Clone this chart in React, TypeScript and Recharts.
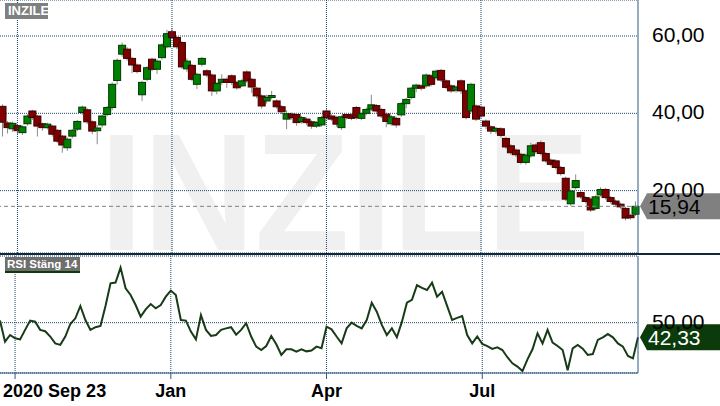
import React from "react";
import {
  ComposedChart,
  Bar,
  Line,
  XAxis,
  YAxis,
  CartesianGrid,
  ReferenceLine,
} from "recharts";

// daily candles (left to right)
const OPEN = [
  41.8, 37.5, 36.0, 36.8, 35.0, 37.3, 40.6, 39.3, 37.3, 36.3,
  36.7, 35.6, 34.1, 31.1, 34.1, 35.9, 40.2, 40.9, 37.8, 35.5,
  37.0, 39.7, 41.5, 48.5, 55.3, 56.6, 54.2, 52.5, 44.8, 48.8,
  54.0, 51.4, 54.4, 57.2, 61.1, 59.6, 58.3, 51.5, 52.4, 47.5,
  52.7, 51.0, 49.9, 45.8, 48.0, 48.8, 49.7, 48.0, 47.1, 50.7,
  48.8, 46.5, 44.5, 43.2, 44.1, 43.2, 41.7, 38.5, 39.8, 39.7,
  37.9, 38.5, 37.8, 36.7, 37.0, 40.6, 39.3, 38.9, 36.3, 39.7,
  39.6, 41.5, 38.7, 40.0, 41.1, 42.0, 41.0, 39.8, 37.3, 38.7,
  39.6, 42.5, 44.1, 46.5, 47.1, 47.1, 49.7, 49.2, 51.1, 48.4,
  47.1, 46.0, 48.4, 45.8, 40.6, 41.9, 41.6, 38.0, 36.5, 35.4,
  36.0, 33.5, 31.6, 30.5, 29.4, 27.3, 29.0, 31.8, 32.4, 29.6,
  27.9, 27.7, 26.0, 23.2, 16.6, 20.8, 19.5, 18.2, 17.8, 15.4,
  18.9, 20.3, 18.2, 17.3, 16.5, 15.4, 13.6, 13.9,
];
const CLOSE = [
  37.7, 36.3, 37.4, 35.5, 36.5, 39.3, 38.9, 36.7, 36.3, 37.2,
  34.6, 32.8, 31.8, 33.3, 35.6, 37.9, 41.6, 37.8, 35.4, 36.2,
  39.3, 41.5, 47.5, 53.7, 57.6, 54.2, 52.5, 50.8, 48.0, 51.8,
  51.4, 53.5, 57.7, 60.6, 59.6, 57.2, 52.0, 53.5, 48.8, 50.1,
  54.2, 49.9, 45.8, 47.7, 48.8, 48.0, 48.0, 46.6, 48.4, 48.4,
  46.8, 44.5, 41.9, 44.1, 44.6, 41.7, 40.4, 39.9, 38.9, 37.6,
  38.9, 37.6, 36.7, 37.6, 38.9, 38.9, 38.5, 37.2, 39.1, 38.9,
  38.7, 38.9, 39.9, 41.0, 42.2, 40.6, 39.3, 37.9, 39.1, 37.0,
  42.5, 43.6, 46.5, 47.3, 46.5, 49.9, 47.5, 50.9, 48.6, 46.7,
  45.8, 46.8, 45.8, 38.9, 47.5, 38.5, 39.3, 36.7, 35.4, 36.1,
  34.3, 31.3, 29.8, 29.3, 27.3, 29.2, 31.6, 30.1, 29.6, 27.7,
  26.8, 26.0, 24.4, 17.8, 19.9, 22.6, 18.4, 17.2, 15.0, 18.4,
  20.3, 18.2, 17.2, 16.5, 15.8, 12.9, 13.0, 15.94,
];
const HIGH = [
  42.3, 38.0, 37.9, 37.2, 36.9, 39.8, 40.9, 39.6, 37.6, 37.6,
  37.0, 35.9, 34.4, 33.8, 36.0, 38.3, 42.0, 41.3, 38.2, 37.0,
  39.7, 41.9, 48.0, 54.2, 58.3, 57.1, 54.6, 52.9, 48.4, 52.2,
  54.4, 54.0, 58.1, 61.6, 62.0, 60.0, 58.7, 54.2, 52.8, 50.5,
  54.6, 51.4, 50.3, 48.1, 50.1, 49.3, 50.1, 48.4, 48.8, 51.1,
  49.2, 46.9, 44.9, 44.8, 45.8, 43.6, 42.1, 40.8, 40.2, 40.1,
  39.3, 38.9, 38.2, 38.0, 39.3, 41.1, 39.7, 39.3, 39.5, 40.1,
  40.0, 41.9, 40.3, 41.5, 44.8, 42.4, 41.4, 40.2, 39.5, 39.1,
  42.9, 44.0, 46.9, 47.7, 47.5, 50.3, 50.1, 51.3, 51.5, 48.8,
  47.5, 47.2, 48.8, 46.2, 47.9, 42.3, 42.0, 38.4, 36.9, 36.5,
  36.4, 33.9, 32.0, 30.9, 29.8, 29.6, 32.4, 32.2, 33.0, 30.0,
  28.3, 28.1, 26.4, 23.6, 20.3, 24.2, 19.9, 18.6, 18.2, 18.8,
  20.9, 20.7, 18.6, 17.7, 16.9, 15.8, 14.0, 17.2,
];
const LOW = [
  34.0, 34.8, 35.2, 34.6, 34.4, 36.8, 38.3, 34.0, 35.5, 35.8,
  34.0, 32.3, 29.8, 30.3, 33.5, 35.4, 39.6, 37.2, 34.6, 32.0,
  36.3, 39.2, 40.8, 47.4, 54.6, 53.6, 50.4, 50.3, 43.2, 48.3,
  50.9, 50.2, 53.9, 56.8, 59.2, 56.6, 51.5, 50.7, 48.3, 46.3,
  52.1, 49.3, 44.5, 44.9, 47.3, 46.6, 47.3, 46.1, 46.8, 47.9,
  45.3, 43.9, 41.2, 42.5, 43.6, 41.2, 39.8, 35.9, 38.4, 36.8,
  37.3, 36.9, 36.0, 36.2, 36.5, 38.4, 38.0, 36.5, 35.7, 38.4,
  38.2, 38.4, 38.2, 39.5, 40.6, 40.1, 38.8, 36.4, 36.8, 36.3,
  39.1, 41.3, 43.6, 45.5, 45.9, 46.6, 47.0, 48.7, 48.1, 46.2,
  45.3, 45.3, 45.0, 38.4, 40.1, 38.0, 38.8, 35.9, 34.6, 34.7,
  33.7, 30.8, 29.2, 28.7, 26.8, 26.7, 28.5, 29.6, 29.1, 27.2,
  26.3, 25.5, 23.9, 17.3, 16.1, 20.3, 17.9, 16.7, 14.5, 14.9,
  18.4, 17.7, 16.7, 16.0, 15.3, 12.3, 12.5, 13.4,
];
// RSI (close, 14)
const RSI = [
  51.1, 40.0, 43.5, 41.8, 41.2, 46.2, 51.1, 50.5, 46.2, 45.5,
  42.7, 39.1, 38.3, 42.7, 49.3, 52.3, 58.8, 51.4, 46.2, 47.6,
  48.3, 58.8, 70.7, 71.1, 79.0, 68.1, 64.6, 59.3, 53.2, 57.0,
  59.8, 57.6, 59.3, 63.7, 66.9, 64.6, 51.4, 51.1, 45.3, 41.2,
  54.0, 46.2, 43.0, 43.5, 46.2, 47.0, 47.6, 43.7, 46.2, 49.7,
  42.7, 37.4, 35.6, 37.7, 43.0, 38.6, 33.0, 36.0, 36.0, 34.8,
  36.0, 34.9, 35.3, 37.4, 36.5, 47.9, 46.5, 42.7, 39.1, 47.0,
  50.0, 48.3, 47.0, 51.4, 60.5, 55.8, 48.8, 43.5, 47.0, 42.3,
  50.4, 60.5, 62.0, 69.7, 68.3, 67.2, 71.1, 63.7, 66.3, 58.8,
  51.4, 52.5, 53.5, 43.5, 39.1, 42.7, 38.8, 37.7, 36.2, 37.0,
  35.6, 31.8, 28.6, 26.9, 24.5, 30.7, 36.0, 44.4, 39.1, 46.2,
  39.5, 37.7, 35.6, 25.0, 36.5, 38.3, 36.3, 33.0, 33.5, 40.9,
  42.3, 44.0, 42.3, 39.1, 37.4, 32.5, 31.2, 42.33,
];

const PRICE_TICKS = [20, 40, 60];
const RSI_TICKS = [50];
const DATE_TICKS = [
  { i: 3, label: "2020 Sep 23" },
  { i: 34, label: "Jan" },
  { i: 65, label: "Apr" },
  { i: 96, label: "Jul" },
];
const LAST_PRICE = 15.94;
const LAST_RSI = 42.33;

const data = OPEN.map((open, i) => ({
  i,
  open,
  close: CLOSE[i],
  high: HIGH[i],
  low: LOW[i],
  rsi: RSI[i],
}));

const FONT = '"Liberation Sans", Arial, sans-serif';
const GRID = "#1f4766";
const BORDER = "#2c5985";

const fmt = (v: number) => v.toFixed(2).replace(".", ",");

const Candle = (props: any) => {
  const { x, y, width, height, payload } = props;
  if (!payload) return null;
  const { open, close, high, low } = payload;
  const top = Math.min(y, y + height);
  const span = Math.abs(height);
  const k = high === low ? 0 : span / (high - low);
  const yO = top + (high - open) * k;
  const yC = top + (high - close) * k;
  const up = close >= open;
  const cx = x + width / 2;
  return (
    <g>
      <line x1={cx} x2={cx} y1={top} y2={top + span} stroke="#8a8a8a" strokeWidth={1} />
      <rect
        x={cx - 3.5}
        y={Math.min(yO, yC)}
        width={7}
        height={Math.max(Math.abs(yC - yO), 1.5)}
        fill={up ? "#008000" : "#800000"}
        stroke={up ? "#003800" : "#3a0000"}
        strokeWidth={1}
      />
    </g>
  );
};

const ValueTick = (props: any) => {
  const { x, y, payload } = props;
  return (
    <text x={x} y={y + 6} fontSize={21} fontFamily={FONT} fill="#000">
      {fmt(payload.value)}
    </text>
  );
};

const DateTick = (props: any) => {
  const { x, y, payload } = props;
  const t = DATE_TICKS.find((d) => d.i === payload.value);
  if (!t) return <g />;
  const first = t.i === DATE_TICKS[0].i;
  return (
    <g>
      <line x1={x} x2={x} y1={y - 8} y2={y - 2} stroke={BORDER} />
      <text
        x={first ? x - 12 : x}
        y={y + 16}
        textAnchor={first ? "start" : "middle"}
        fontSize={18}
        fontWeight="bold"
        fontFamily={FONT}
        fill="#000"
      >
        {t.label}
      </text>
    </g>
  );
};

const Badge = (props: any) => {
  const { viewBox, text, bg, fg } = props;
  if (!viewBox) return null;
  const x = viewBox.x + viewBox.width + 2;
  const y = viewBox.y;
  return (
    <g>
      <polygon
        points={`${x},${y} ${x + 7},${y - 13} ${x + 82},${y - 13} ${x + 82},${y + 13} ${x + 7},${y + 13}`}
        fill={bg}
      />
      <text x={x + 8} y={y + 7.5} fontSize={21} fontFamily={FONT} fill={fg}>
        {text}
      </text>
    </g>
  );
};

const tag: React.CSSProperties = {
  position: "absolute",
  left: 5,
  color: "#fff",
  fontFamily: FONT,
  fontWeight: "bold",
  lineHeight: "15px",
  paddingLeft: 3,
  boxSizing: "border-box",
  whiteSpace: "nowrap",
  overflow: "hidden",
};

export default function App() {
  return (
    <div style={{ position: "relative", width: 720, height: 406, background: "#fff", overflow: "hidden" }}>
      <style>{"body{margin:0}"}</style>
      <svg width={720} height={253} style={{ position: "absolute", left: 0, top: 0 }}>
        <text
          x={100}
          y={250}
          fontSize={167}
          fontWeight="bold"
          fontFamily={FONT}
          fill="#f0f0f0"
          textLength={490}
          lengthAdjust="spacingAndGlyphs"
        >
          INZILE
        </text>
      </svg>
      <div style={{ position: "relative" }}>
        <ComposedChart width={720} height={253} data={data} margin={{ top: 0, right: 0, bottom: 0, left: 0 }}>
          <CartesianGrid vertical={false} stroke={GRID} strokeDasharray="1 1" />
          <XAxis dataKey="i" type="category" hide />
          <YAxis
            orientation="right"
            width={82}
            domain={[3.87, 69.31]}
            allowDataOverflow
            ticks={PRICE_TICKS}
            stroke={BORDER}
            tickLine={false}
            tickSize={6}
            tickMargin={8}
            tick={<ValueTick />}
          />
          {DATE_TICKS.map((t) => (
            <ReferenceLine key={t.i} x={t.i} stroke={GRID} strokeDasharray="1 1" />
          ))}
          <Bar dataKey={(d: any) => [d.low, d.high]} shape={<Candle />} isAnimationActive={false} />
          <ReferenceLine
            y={LAST_PRICE}
            stroke="#808080"
            strokeDasharray="4 3"
            label={<Badge text={fmt(LAST_PRICE)} bg="#808080" fg="#000" />}
          />
        </ComposedChart>
      </div>
      <div style={{ height: 2, background: "#10283c" }} />
      <ComposedChart width={720} height={151} data={data} margin={{ top: 1, right: 0, bottom: 0, left: 0 }}>
        <CartesianGrid vertical={false} stroke={GRID} strokeDasharray="1 1" />
        <XAxis
          dataKey="i"
          type="category"
          height={33}
          interval={0}
          stroke={BORDER}
          tickLine={false}
          tick={<DateTick />}
        />
        <YAxis
          orientation="right"
          width={82}
          domain={[23.5, 85.1]}
          allowDataOverflow
          ticks={RSI_TICKS}
          stroke={BORDER}
          tickLine={false}
          tickSize={6}
          tickMargin={8}
          tick={<ValueTick />}
        />
        {DATE_TICKS.map((t) => (
          <ReferenceLine key={t.i} x={t.i} stroke={GRID} strokeDasharray="1 1" />
        ))}
        <Line
          dataKey="rsi"
          type="linear"
          stroke="#173b17"
          strokeWidth={2}
          dot={false}
          isAnimationActive={false}
        />
        <ReferenceLine
          y={LAST_RSI}
          stroke="none"
          label={<Badge text={fmt(LAST_RSI)} bg="#0b3a0b" fg="#fff" />}
        />
      </ComposedChart>
      <div style={{ ...tag, top: 3, width: 43, height: 16, background: "#808080", fontSize: 13 }}>INZILE</div>
      <div
        style={{
          ...tag,
          top: 257,
          width: 75,
          height: 16,
          background: "#6e6e6e",
          borderBottom: "2px solid #0b3d0b",
          fontSize: 11.5,
          lineHeight: "14px",
          paddingLeft: 2,
        }}
      >
        RSI Stäng 14
      </div>
    </div>
  );
}
